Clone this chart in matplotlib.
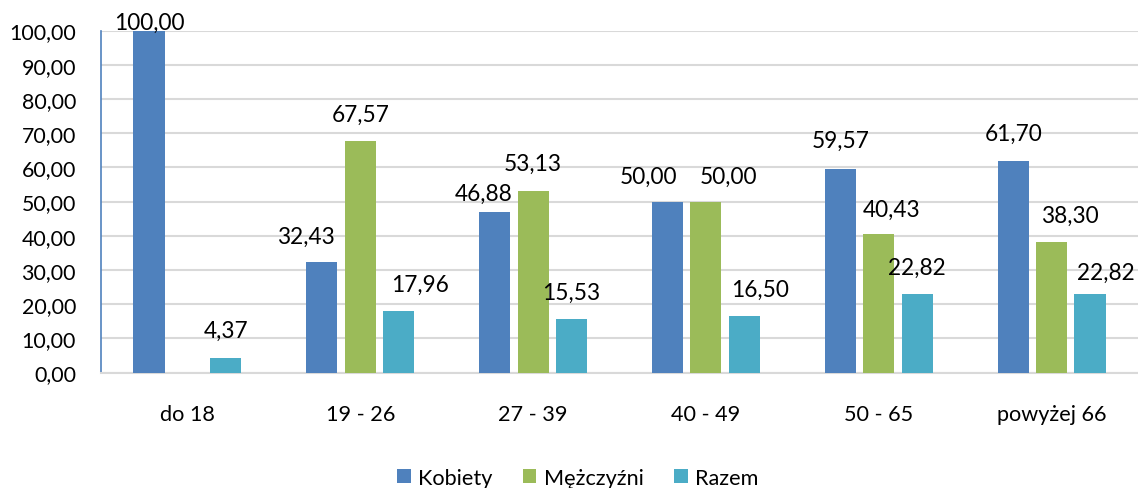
import numpy as np
import matplotlib
matplotlib.use("Agg")
import matplotlib.pyplot as plt
from matplotlib.patches import Patch

plt.rcParams['font.family'] = ['Lato', 'DejaVu Sans']

categories = ["do 18", "19 - 26", "27 - 39", "40 - 49", "50 - 65", "powyżej 66"]
series_names = ["Kobiety", "Mężczyźni", "Razem"]
kobiety = [100.00, 32.43, 46.88, 50.00, 59.57, 61.70]
mezczyzni = [np.nan, 67.57, 53.13, 50.00, 40.43, 38.30]
razem = [4.37, 17.96, 15.53, 16.50, 22.82, 22.82]
yticks = [0, 10, 20, 30, 40, 50, 60, 70, 80, 90, 100]

colors = ["#4F81BD", "#9BBB59", "#4BACC6"]

# label offsets in pixels (dx, dy) relative to bar-top centre (layout only)
label_dx = [
    [0, -15.5, -11, -19, 0, 0],
    [0, 0, 0, 23, 13, 18.5],
    [0, 21, 0, 16, 0, 16],
]
label_dy = [
    [8, 25.5, 19, 25.5, 28, 28.5],
    [27, 27, 27, 25.5, 25, 26.5],
    [27, 27, 27.5, 26.5, 27.5, 22.5],
]

W, H = 1138, 489
fig = plt.figure(figsize=(W / 100, H / 100), dpi=100)
ax = fig.add_axes([101 / W, (H - 373.5) / H, (1138 - 101) / W, (373.5 - 31.5) / H])

x = np.arange(len(categories))
step = 0.222
width = 0.18
data = [kobiety, mezczyzni, razem]
px2pt = 72 / 100
for i, (vals, c) in enumerate(zip(data, colors)):
    xs = x + (i - 1) * step
    ax.bar(xs, vals, width=width, color=c, zorder=3)
    for j, (xx, v) in enumerate(zip(xs, vals)):
        if np.isnan(v):
            continue
        ax.annotate(f"{v:.2f}".replace(".", ","), xy=(xx, v),
                    xytext=(label_dx[i][j] * px2pt, label_dy[i][j] * px2pt),
                    textcoords="offset points", ha="center", va="center",
                    fontsize=16.3, color="#000000", annotation_clip=False, zorder=5)

ax.set_xlim(-0.5, len(categories) - 0.5)
ax.set_ylim(0, 100)
ax.set_yticks(yticks)
ax.set_yticklabels([f"{t:.2f}".replace(".", ",") for t in yticks], fontsize=15.4)
ax.set_xticks(x)
ax.set_xticklabels(categories, fontsize=15.6)
ax.tick_params(axis="y", length=0, pad=18)
ax.tick_params(axis="x", length=0, pad=23)
ax.grid(axis="y", color="#D9D9D9", linewidth=1.5, zorder=0)
ax.set_axisbelow(True)
for s in ["top", "right"]:
    ax.spines[s].set_visible(False)
ax.spines["left"].set_color("#4F81BD")
ax.spines["left"].set_linewidth(1.2)
ax.spines["bottom"].set_color("#D9D9D9")
ax.spines["bottom"].set_linewidth(1.5)

handles = [Patch(facecolor=c, edgecolor="none", label=n) for c, n in zip(colors, series_names)]
fig.legend(handles=handles, loc="center", bbox_to_anchor=(578 / W, 10 / H), ncol=3,
           frameon=False, fontsize=15.6, handlelength=0.62, handleheight=0.62,
           handletextpad=0.35, columnspacing=1.4, borderaxespad=0)

fig.savefig("out.png", dpi=100)
